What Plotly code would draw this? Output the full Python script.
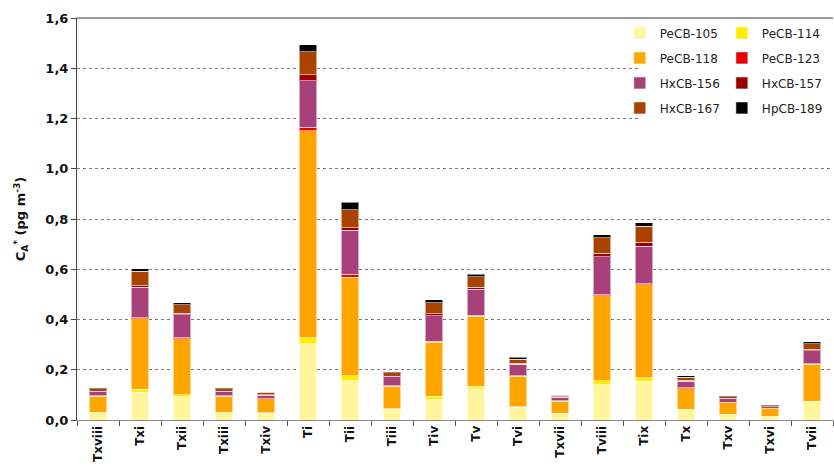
import plotly.graph_objects as go

# Sampling sites, in plotting order
sites = ["Txviii", "Txi", "Txii", "Txiii", "Txiv", "Ti", "Tii", "Tiii", "Tiv",
         "Tv", "Tvi", "Txvii", "Tviii", "Tix", "Tx", "Txv", "Txvi", "Tvii"]

# Air concentrations per congener (pg m-3), stacked bottom to top
pecb_105 = [0.028, 0.110, 0.093, 0.028, 0.027, 0.304, 0.157, 0.043, 0.081,
            0.124, 0.050, 0.024, 0.140, 0.154, 0.040, 0.020, 0.012, 0.068]
pecb_114 = [0.002, 0.013, 0.008, 0.002, 0.002, 0.023, 0.020, 0.002, 0.014,
            0.010, 0.003, 0.002, 0.016, 0.014, 0.002, 0.003, 0.003, 0.007]
pecb_118 = [0.065, 0.281, 0.223, 0.065, 0.055, 0.824, 0.391, 0.089, 0.214,
            0.279, 0.121, 0.049, 0.339, 0.370, 0.083, 0.046, 0.029, 0.146]
pecb_123 = [0.001, 0.003, 0.003, 0.001, 0.001, 0.014, 0.013, 0.002, 0.004,
            0.003, 0.002, 0.001, 0.004, 0.005, 0.003, 0.002, 0.002, 0.003]
hxcb_156 = [0.017, 0.121, 0.092, 0.017, 0.013, 0.185, 0.174, 0.036, 0.102,
            0.105, 0.045, 0.014, 0.150, 0.148, 0.026, 0.013, 0.006, 0.052]
hxcb_157 = [0.002, 0.007, 0.005, 0.002, 0.002, 0.025, 0.010, 0.003, 0.007,
            0.008, 0.004, 0.002, 0.014, 0.016, 0.005, 0.002, 0.001, 0.006]
hxcb_167 = [0.010, 0.057, 0.034, 0.010, 0.010, 0.091, 0.072, 0.013, 0.045,
            0.042, 0.016, 0.007, 0.063, 0.064, 0.012, 0.007, 0.004, 0.021]
hpcb_189 = [0.003, 0.010, 0.009, 0.003, 0.002, 0.027, 0.029, 0.005, 0.011,
            0.009, 0.008, 0.002, 0.012, 0.015, 0.006, 0.004, 0.001, 0.009]

series = [
    ("PeCB-105", pecb_105, "#FFF59D", "legend"),
    ("PeCB-114", pecb_114, "#FFEE00", "legend2"),
    ("PeCB-118", pecb_118, "#FFA500", "legend"),
    ("PeCB-123", pecb_123, "#E80000", "legend2"),
    ("HxCB-156", hxcb_156, "#A8417A", "legend"),
    ("HxCB-157", hxcb_157, "#9A0000", "legend2"),
    ("HxCB-167", hxcb_167, "#A84300", "legend"),
    ("HpCB-189", hpcb_189, "#000000", "legend2"),
]

font_family = "DejaVu Sans"

fig = go.Figure()
for name, values, color, leg in series:
    fig.add_trace(go.Bar(
        x=sites, y=values, name=name,
        marker=dict(color=color, line=dict(color="rgba(255,255,255,0.55)", width=1)),
        legend=leg, legendgroup=name,
    ))

legend_style = dict(
    bgcolor="rgba(255,255,255,0)", borderwidth=0, tracegroupgap=6,
    font=dict(family=font_family, size=12, color="#222"),
    yanchor="top", y=0.999, xanchor="left",
    itemclick=False, itemdoubleclick=False,
)

fig.update_layout(
    width=834, height=468,
    margin=dict(l=77, r=1, t=18, b=47.5),
    barmode="stack", bargap=0.58,
    plot_bgcolor="white", paper_bgcolor="white",
    separators=",.",
    font=dict(family=font_family, size=12, color="#111"),
    legend=dict(x=0.718, **legend_style),
    legend2=dict(x=0.853, **legend_style),
    xaxis=dict(
        type="category", tickangle=-90,
        tickfont=dict(family=font_family, size=12, weight="bold", color="#111"),
        showline=True, linecolor="#888", linewidth=1,
        ticks="outside", tickson="boundaries", ticklen=5, tickcolor="#555",
        showgrid=False,
    ),
    yaxis=dict(
        range=[0, 1.6], dtick=0.2, tickformat=".1f",
        tickfont=dict(family=font_family, size=13, weight="bold", color="#111"),
        showline=True, linecolor="#444", linewidth=1,
        ticks="outside", ticklen=5, tickcolor="#444",
        showgrid=True, gridcolor="#777", griddash="dot", gridwidth=1,
        zeroline=False,
        title=dict(
            text="C<sub>A</sub><sup>*</sup> (pg m<sup>-3</sup>)",
            font=dict(family=font_family, size=13, weight="bold", color="#111"),
            standoff=16,
        ),
    ),
    shapes=[
        # white panel behind the legend block
        dict(type="rect", xref="paper", yref="paper", x0=0.744, x1=1, y0=0.71, y1=0.998,
             fillcolor="white", line=dict(width=0), layer="above"),
        # top frame line
        dict(type="line", xref="paper", yref="paper", x0=0, x1=1, y0=1, y1=1,
             line=dict(color="#333", width=1)),
    ],
)

fig.write_html("out.html")
